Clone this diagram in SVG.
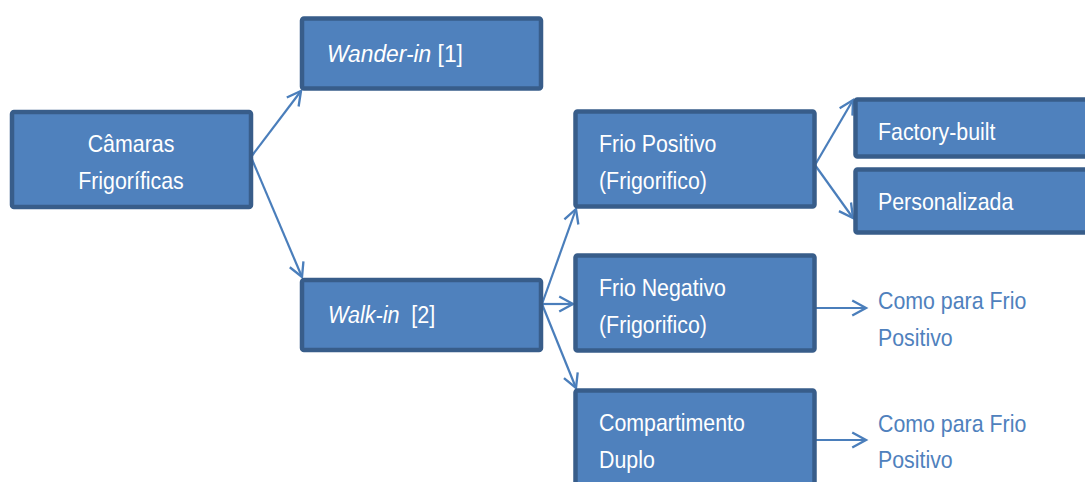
<svg xmlns="http://www.w3.org/2000/svg" width="1085" height="482" viewBox="0 0 1085 482">
  <style>
    .box { fill: #4f81bd; stroke: #385d8a; stroke-width: 4.5; }
    .lbl { fill: #ffffff; font-family: "Liberation Sans", Arial, sans-serif; font-size: 24px; }
    .note { fill: #4f81bd; font-family: "Liberation Sans", Arial, sans-serif; font-size: 24px; }
    .it { font-style: italic; }
    .conn { fill: none; stroke: #4a7ebb; stroke-width: 2.2; marker-end: url(#open); }
  </style>
  <defs>
    <!-- open V arrowhead shared by all connectors -->
    <marker id="open" markerUnits="userSpaceOnUse" markerWidth="18" markerHeight="18" refX="14" refY="8" orient="auto" viewBox="0 0 17 16">
      <path d="M1,1 L14,8 L1,15" fill="none" stroke="#4a7ebb" stroke-width="2.2"/>
    </marker>
  </defs>

  <rect width="1085" height="482" fill="#ffffff"/>

  <g id="connectors">
    <line class="conn" x1="251" y1="157" x2="301" y2="91"/>
    <line class="conn" x1="251" y1="157" x2="302" y2="277"/>
    <line class="conn" x1="542" y1="304" x2="576" y2="209"/>
    <line class="conn" x1="542" y1="304" x2="573" y2="304"/>
    <line class="conn" x1="542" y1="304" x2="576" y2="388"/>
    <line class="conn" x1="815" y1="165" x2="853" y2="100"/>
    <line class="conn" x1="815" y1="165" x2="853" y2="218"/>
    <line class="conn" x1="815" y1="308" x2="866" y2="308"/>
    <line class="conn" x1="815" y1="440" x2="866" y2="440"/>
  </g>

  <!-- labels are set slightly condensed (horizontal scale below 1) -->
  <g id="camaras">
    <rect class="box" x="12" y="112" width="239" height="95" rx="2"/>
    <text class="lbl" transform="translate(131 152) scale(0.89 1)" text-anchor="middle">Câmaras</text>
    <text class="lbl" transform="translate(131 189) scale(0.89 1)" text-anchor="middle">Frigoríficas</text>
  </g>

  <g id="wander-in">
    <rect class="box" x="302" y="18.5" width="239" height="70" rx="2"/>
    <text class="lbl" transform="translate(327 62) scale(0.95 1)"><tspan class="it">Wander-in</tspan> [1]</text>
  </g>

  <g id="walk-in">
    <rect class="box" x="302" y="280" width="239" height="70" rx="2"/>
    <text class="lbl" transform="translate(328 323) scale(0.9 1)"><tspan class="it">Walk-in</tspan><tspan dx="13">[2]</tspan></text>
  </g>

  <g id="frio-positivo">
    <rect class="box" x="575.5" y="111.5" width="239" height="95" rx="2"/>
    <text class="lbl" transform="translate(599 152) scale(0.89 1)">Frio Positivo</text>
    <text class="lbl" transform="translate(599 189) scale(0.89 1)">(Frigorifico)</text>
  </g>

  <g id="frio-negativo">
    <rect class="box" x="575.5" y="255.5" width="239" height="95" rx="2"/>
    <text class="lbl" transform="translate(599 296) scale(0.89 1)">Frio Negativo</text>
    <text class="lbl" transform="translate(599 333) scale(0.89 1)">(Frigorifico)</text>
  </g>

  <g id="compartimento-duplo">
    <rect class="box" x="575.5" y="390.5" width="239" height="100" rx="2"/>
    <text class="lbl" transform="translate(599 431) scale(0.89 1)">Compartimento</text>
    <text class="lbl" transform="translate(599 468) scale(0.89 1)">Duplo</text>
  </g>

  <g id="factory-built">
    <rect class="box" x="855.5" y="99.5" width="240" height="57" rx="2"/>
    <text class="lbl" transform="translate(878 140) scale(0.89 1)">Factory-built</text>
  </g>

  <g id="personalizada">
    <rect class="box" x="855.5" y="169.5" width="240" height="63" rx="2"/>
    <text class="lbl" transform="translate(878 210) scale(0.89 1)">Personalizada</text>
  </g>

  <g id="nota-negativo">
    <text class="note" transform="translate(878 309) scale(0.89 1)">Como para Frio</text>
    <text class="note" transform="translate(878 346) scale(0.89 1)">Positivo</text>
  </g>

  <g id="nota-duplo">
    <text class="note" transform="translate(878 432) scale(0.89 1)">Como para Frio</text>
    <text class="note" transform="translate(878 468) scale(0.89 1)">Positivo</text>
  </g>
</svg>
